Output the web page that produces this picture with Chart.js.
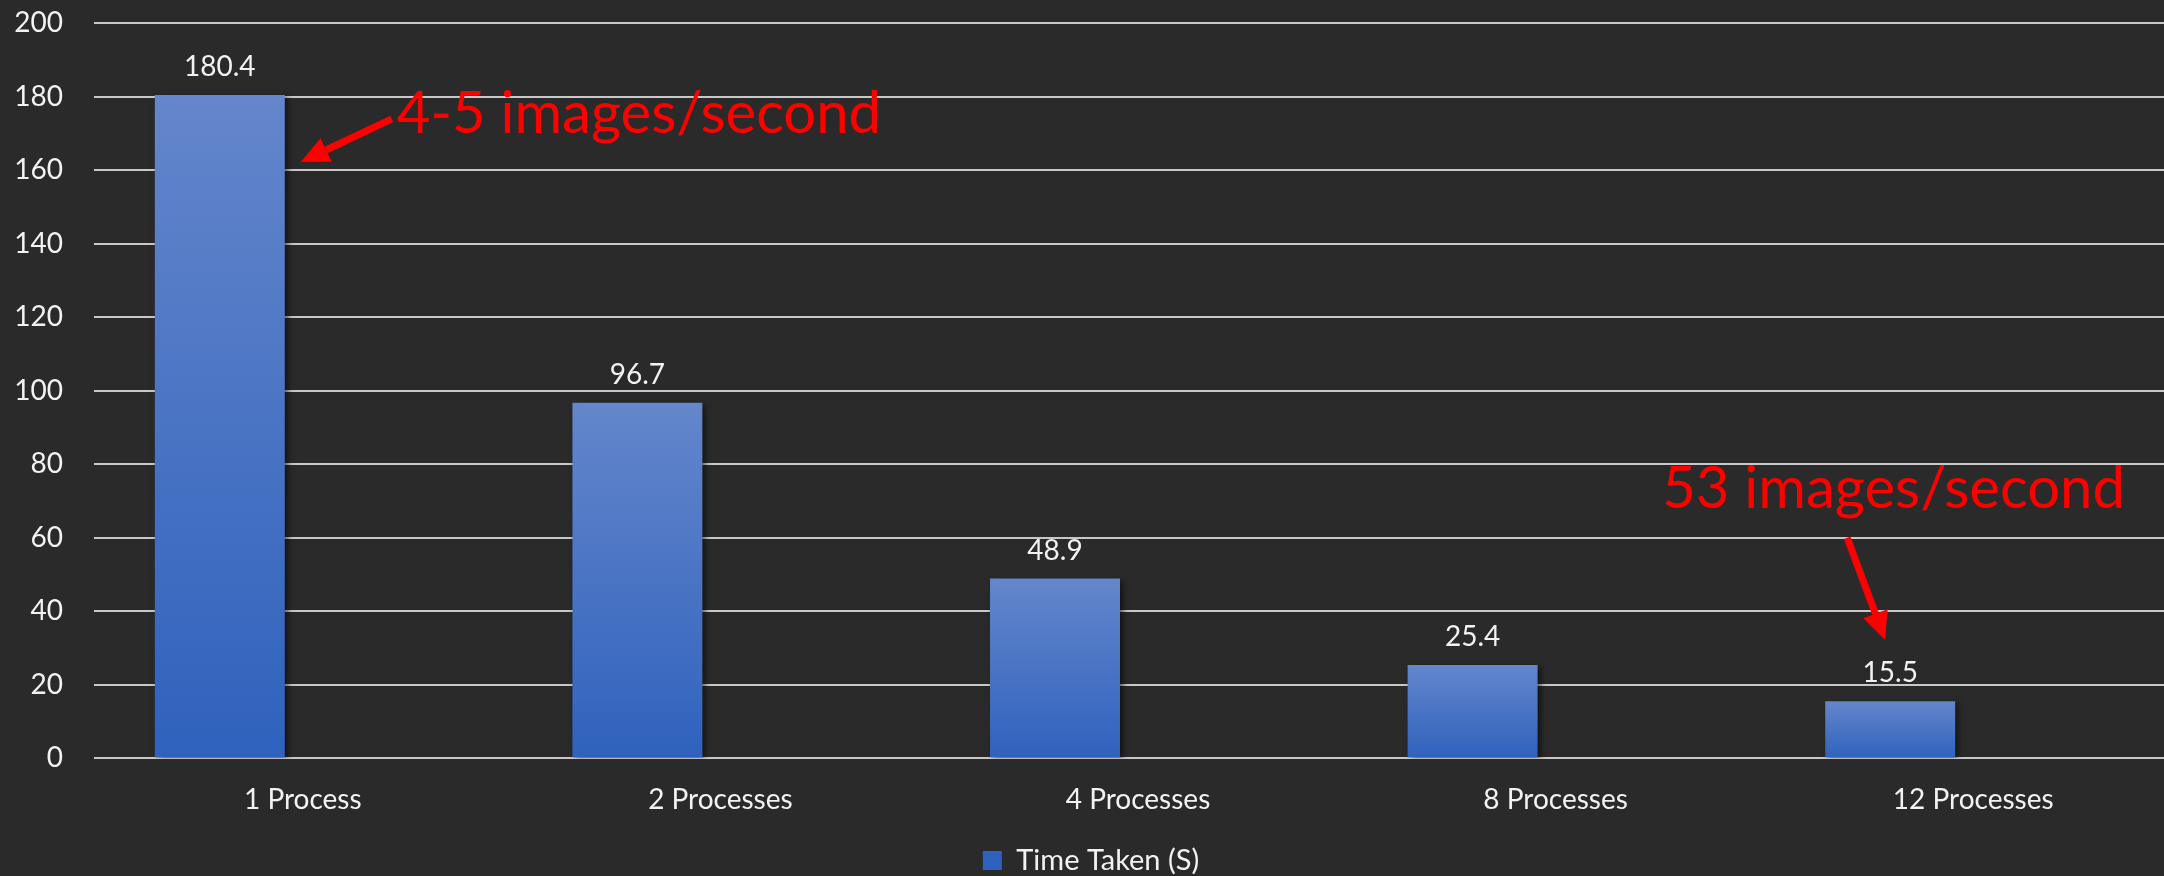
<!DOCTYPE html>
<html>
<head>
<meta charset="utf-8">
<script src="https://cdn.jsdelivr.net/npm/chart.js@4.4.1/dist/chart.umd.min.js"></script>
<style>
  html, body { margin: 0; padding: 0; background: #2a2a2a; overflow: hidden; }
  #wrap { width: 2218px; height: 876px; position: relative; }
</style>
</head>
<body>
<div id="wrap"><canvas id="chart"></canvas></div>
<script>
const categories = ['1 Process', '2 Processes', '4 Processes', '8 Processes', '12 Processes']
const times = [180.4, 96.7, 48.9, 25.4, 15.5]
const yTicks = [0, 20, 40, 60, 80, 100, 120, 140, 160, 180, 200]
const notes = ['4-5 images/second', '53 images/second']

const textColor = '#f2f2f2'
const font = 'Lato'

function barFill(c) {
    const chart = c.chart
    if (!chart.chartArea || c.dataIndex === undefined) return '#4a74c4'
    const y = chart.scales.y
    const top = y.getPixelForValue(times[c.dataIndex])
    const base = y.getPixelForValue(0)
    const g = chart.ctx.createLinearGradient(0, top, 0, base)
    g.addColorStop(0, '#6486cb')
    g.addColorStop(1, '#2f62bd')
    return g
}

function arrow(ctx, x1, y1, x2, y2) {
    const ang = Math.atan2(y2 - y1, x2 - x1)
    const head = 28, half = 13
    const bx = x2 - head * Math.cos(ang), by = y2 - head * Math.sin(ang)
    ctx.strokeStyle = '#ff0000'
    ctx.fillStyle = '#ff0000'
    ctx.lineWidth = 7
    ctx.beginPath()
    ctx.moveTo(x1, y1)
    ctx.lineTo(bx, by)
    ctx.stroke()
    ctx.beginPath()
    ctx.moveTo(x2, y2)
    ctx.lineTo(bx + half * Math.sin(ang), by - half * Math.cos(ang))
    ctx.lineTo(bx - half * Math.sin(ang), by + half * Math.cos(ang))
    ctx.closePath()
    ctx.fill()
}

// soft shadow under the bars
const barShadow = {
    id: 'barShadow',
    beforeDatasetsDraw(chart) {
        const ctx = chart.ctx
        ctx.save()
        ctx.shadowColor = 'rgba(0,0,0,0.55)'
        ctx.shadowBlur = 6
        ctx.shadowOffsetX = 3
        ctx.shadowOffsetY = 2
    },
    afterDatasetsDraw(chart) {
        chart.ctx.restore()
    }
}

// value labels plus the red call-outs
const labels = {
    id: 'labels',
    afterDraw(chart) {
        const ctx = chart.ctx
        const y = chart.scales.y
        const bars = chart.getDatasetMeta(0).data
        ctx.save()
        ctx.font = '28px ' + font
        ctx.fillStyle = textColor
        ctx.textAlign = 'center'
        ctx.textBaseline = 'middle'
        bars.forEach((b, i) => {
            ctx.fillText(times[i], b.x, b.y - 28)
        })

        ctx.font = '58px ' + font
        ctx.fillStyle = '#ff0000'
        ctx.textAlign = 'left'
        ctx.textBaseline = 'alphabetic'

        const b0 = bars[0]
        const tipX = b0.x + b0.width / 2 + 16
        arrow(ctx, tipX + 91, y.getPixelForValue(173.9), tipX, y.getPixelForValue(162.2))
        ctx.fillText(notes[0], tipX + 96, y.getPixelForValue(170.1))

        const b4 = bars[4]
        arrow(ctx, b4.x - 43, y.getPixelForValue(60), b4.x - 5, y.getPixelForValue(32.2))
        ctx.fillText(notes[1], b4.x - 228, y.getPixelForValue(68.1))
        ctx.restore()
    }
}

new Chart(document.getElementById('chart'), {
    type: 'bar',
    data: {
        labels: categories,
        datasets: [{
            label: 'Time Taken (S)',
            data: times,
            backgroundColor: barFill,
            borderWidth: 0,
            categoryPercentage: 0.795,
            barPercentage: 0.783
        }, {
            label: '',
            data: [],
            categoryPercentage: 0.795,
            barPercentage: 0.783
        }]
    },
    options: {
        responsive: true,
        maintainAspectRatio: false,
        animation: false,
        layout: { padding: { left: 0, right: 36, top: 23, bottom: -9 } },
        scales: {
            x: {
                grid: { display: false },
                border: { display: false },
                ticks: { color: textColor, font: { family: font, size: 28, lineHeight: 1.31 }, padding: 15 }
            },
            y: {
                min: 0,
                max: 200,
                afterBuildTicks: s => { s.ticks = yTicks.map(v => ({ value: v })) },
                afterFit: s => {
                    s.width = 94
                    s.paddingTop = 0
                    s.paddingBottom = 0
                },
                grid: { color: '#c8c8c8', lineWidth: 2, drawTicks: false },
                border: { display: false },
                ticks: { color: textColor, font: { family: font, size: 28 }, padding: 31 }
            }
        },
        plugins: {
            legend: {
                position: 'bottom',
                labels: {
                    color: textColor,
                    font: { family: font, size: 29 },
                    boxWidth: 19,
                    boxHeight: 19,
                    padding: 13,
                    filter: item => item.text !== ''
                }
            },
            tooltip: { enabled: false }
        }
    },
    plugins: [barShadow, labels]
})
</script>
</body>
</html>
